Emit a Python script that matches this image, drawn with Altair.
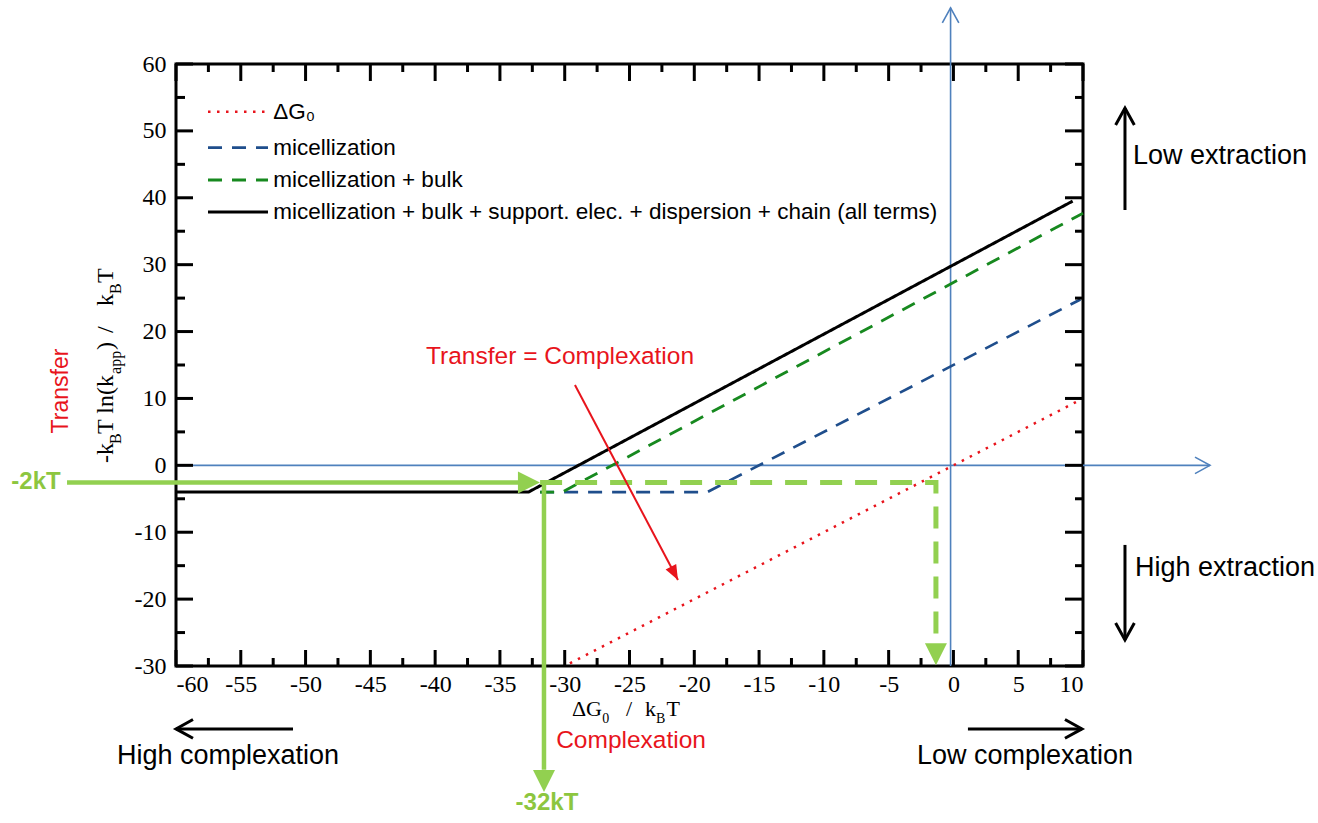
import altair as alt
import pandas as pd

W, H = 907, 602
X_DOMAIN = [-60, 10]
Y_DOMAIN = [-30, 60]

# ---------------- data ----------------
series_names = ["dg0", "mic", "bulk", "all"]
series_colors = ["#e8141c", "#1f4e8c", "#17891f", "#000000"]
series_dash = [[2.5, 6.5], [14, 10], [14, 10], [1, 0]]
series_width = [2.5, 3.0, 3.5, 3.0]

dg0_x = [-29.6, 9.8]
dg0_y = [-29.6, 9.8]
mic_x = [-31.9, -19.0, 9.8]
mic_y = [-4.0, -4.0, 24.8]
bulk_x = [-31.9, -30.2, 10.0]
bulk_y = [-4.0, -4.0, 37.7]
all_x = [-60.0, -32.8, 9.2]
all_y = [-4.0, -4.0, 39.5]

legend_labels = ["ΔG₀", "micellization", "micellization + bulk",
                 "micellization + bulk + support. elec. + dispersion + chain (all terms)"]
legend_y = [52.87, 47.49, 42.66, 37.87]
legend_x1, legend_x2, legend_tx = -57.53, -52.9, -52.5

x_ticks_major = list(range(-60, 11, 5))
x_ticks_minor = [v + 2.5 for v in range(-60, 10, 5)]
y_ticks_major = list(range(-30, 61, 10))
y_ticks_minor = [v + 5 for v in range(-30, 60, 10)]

# blue reference axes (x1, y1, x2, y2)
blue_lines = [(-60.0, 0.0, 19.8, 0.0), (-0.22, -30.0, -0.22, 68.4)]
blue_heads = [(19.8, 0.0, 0), (-0.22, 68.4, 270)]

# light green guide
green_solid = [(-68.41, -2.55, -32.5, -2.55), (-31.6, -2.55, -31.6, -45.5)]
green_heads = [(-31.91, -2.55, 0), (-31.6, -48.84, 90), (-1.35, -29.9, 90)]
green_dash_x = [-31.9, -1.35, -1.35]
green_dash_y = [-2.55, -2.55, -25.5]

# black direction arrows (x1, y1, x2, y2, angle)
black_arrows = [(-50.97, -39.4, -60.0, -39.4, 180),
                (1.12, -39.4, 9.92, -39.4, 0),
                (13.24, 38.17, 13.24, 53.42, 270),
                (13.24, -11.9, 13.24, -26.1, 90)]

# red arrow
red_arrow = (-29.21, 12.01, -21.26, -17.14, 62)

# annotation texts
annot = [
    # text, x, y, size, color, weight, angle, align
    ("Low extraction", 13.86, 46.2, 27, "black", "normal", 0, "left"),
    ("High extraction", 14.01, -15.35, 27, "black", "normal", 0, "left"),
    ("High complexation", -55.99, -43.4, 27, "black", "normal", 0, "center"),
    ("Low complexation", 5.52, -43.4, 27, "black", "normal", 0, "center"),
    ("Transfer = Complexation", -30.36, 16.2, 24.5, "#e8141c", "normal", 0, "center"),
    ("Complexation", -24.88, -41.2, 24.5, "#e8141c", "normal", 0, "center"),
    ("Transfer", -68.88, 11.11, 23, "#e8141c", "normal", 270, "center"),
    ("-2kT", -68.9, -2.5, 24, "#8dc63f", "bold", 0, "right"),
    ("-32kT", -31.37, -50.48, 24, "#8dc63f", "bold", 0, "center"),
]

# axis title pieces (text, x, y, is_sub)
x_title = [("ΔG", -29.44, -37.5, False), ("0", -27.1, -38.5, True),
           ("/", -25.27, -37.5, False), ("k", -23.80, -37.5, False),
           ("B", -22.95, -38.5, True), ("T", -22.15, -37.5, False)]
y_title = [("-k", -64.86, 0.35, False), ("B", -64.24, 3.19, True),
           ("T ln(k", -64.86, 4.69, False), ("app", -64.24, 13.66, True),
           (")", -64.86, 17.24, False), ("/", -64.86, 19.78, False),
           ("k", -64.86, 23.82, False), ("B", -64.24, 25.62, True),
           ("T", -64.86, 27.26, False)]

# ---------------- chart ----------------
xs = alt.Scale(domain=X_DOMAIN, nice=False, zero=False)
ys = alt.Scale(domain=Y_DOMAIN, nice=False, zero=False)
SERIF = "Liberation Serif"
SANS = "Liberation Sans"
CHEVRON = "M -1 -0.55 L 0 0 L -1 0.55"
TRI = "M -2 -1 L 0 0 L -2 1 Z"
RTRI = "M -2 -0.8 L 0 0 L -2 0.8 Z"

axis_x = alt.Axis(values=x_ticks_major, domain=False, ticks=False, grid=False, title=None,
                  labelFont=SERIF, labelFontSize=24, labelColor="black", labelPadding=6,
                  labelExpr="'' + datum.value")
axis_y = alt.Axis(values=y_ticks_major, domain=False, ticks=False, grid=False, title=None,
                  labelFont=SERIF, labelFontSize=24, labelColor="black", labelPadding=10,
                  labelExpr="'' + datum.value")


def X(f="x"):
    return alt.X(f"{f}:Q", scale=xs, axis=axis_x, title=None)


def Y(f="y"):
    return alt.Y(f"{f}:Q", scale=ys, axis=axis_y, title=None)


cscale = alt.Scale(domain=series_names, range=series_colors)
dscale = alt.Scale(domain=series_names, range=series_dash)
wscale = alt.Scale(domain=series_names, range=series_width)

rows = []
for name, xv, yv in zip(series_names, [dg0_x, mic_x, bulk_x, all_x], [dg0_y, mic_y, bulk_y, all_y]):
    for i, (a, b) in enumerate(zip(xv, yv)):
        rows.append({"series": name, "i": i, "x": a, "y": b})
df_lines = pd.DataFrame(rows)

layers = []

# blue axes
df_blue = pd.DataFrame(blue_lines, columns=["x", "y", "x2", "y2"])
layers.append(alt.Chart(df_blue).mark_rule(color="#4f81bd", strokeWidth=1.6).encode(
    x=X(), y=Y(), x2="x2:Q", y2="y2:Q"))
df_bh = pd.DataFrame(blue_heads, columns=["x", "y", "a"])
layers.append(alt.Chart(df_bh).mark_point(shape=CHEVRON, filled=False, size=900, strokeWidth=1.6,
                                          color="#4f81bd", opacity=1).encode(
    x=X(), y=Y(), angle=alt.Angle("a:Q", scale=None)))

# series lines
layers.append(alt.Chart(df_lines).mark_line().encode(
    x=X(), y=Y(),
    color=alt.Color("series:N", scale=cscale, legend=None),
    strokeDash=alt.StrokeDash("series:N", scale=dscale, legend=None),
    strokeWidth=alt.StrokeWidth("series:N", scale=wscale, legend=None),
    detail="series:N", order="i:Q"))

# legend
df_leg = pd.DataFrame({"series": series_names, "label": legend_labels, "y": legend_y,
                       "x1": legend_x1, "x2": legend_x2, "tx": legend_tx})
layers.append(alt.Chart(df_leg).mark_rule().encode(
    x=X("x1"), x2="x2:Q", y=Y(),
    color=alt.Color("series:N", scale=cscale, legend=None),
    strokeDash=alt.StrokeDash("series:N", scale=dscale, legend=None),
    strokeWidth=alt.StrokeWidth("series:N", scale=wscale, legend=None)))
layers.append(alt.Chart(df_leg).mark_text(align="left", baseline="middle", font=SANS,
                                          fontSize=22.5, color="black").encode(
    x=X("tx"), y=Y(), text="label:N"))

# light green guide
df_gd = pd.DataFrame({"x": green_dash_x, "y": green_dash_y, "i": range(len(green_dash_x))})
layers.append(alt.Chart(df_gd).mark_line(color="#92d050", strokeWidth=5, strokeDash=[22, 13]).encode(
    x=X(), y=Y(), order="i:Q"))
df_gs = pd.DataFrame(green_solid, columns=["x", "y", "x2", "y2"])
layers.append(alt.Chart(df_gs).mark_rule(color="#92d050", strokeWidth=4.5).encode(
    x=X(), y=Y(), x2="x2:Q", y2="y2:Q"))
df_gh = pd.DataFrame(green_heads, columns=["x", "y", "a"])
layers.append(alt.Chart(df_gh).mark_point(shape=TRI, filled=True, size=484, color="#92d050",
                                          opacity=1).encode(
    x=X(), y=Y(), angle=alt.Angle("a:Q", scale=None)))

# black arrows
df_ba = pd.DataFrame(black_arrows, columns=["x", "y", "x2", "y2", "a"])
layers.append(alt.Chart(df_ba).mark_rule(color="black", strokeWidth=3).encode(
    x=X(), y=Y(), x2="x2:Q", y2="y2:Q"))
layers.append(alt.Chart(df_ba).mark_point(shape=CHEVRON, filled=False, size=1156, strokeWidth=3,
                                          color="black", opacity=1).encode(
    x=X("x2"), y=Y("y2"), angle=alt.Angle("a:Q", scale=None)))

# red arrow
df_ra = pd.DataFrame([red_arrow], columns=["x", "y", "x2", "y2", "a"])
layers.append(alt.Chart(df_ra).mark_rule(color="#e8141c", strokeWidth=2).encode(
    x=X(), y=Y(), x2="x2:Q", y2="y2:Q"))
layers.append(alt.Chart(df_ra).mark_point(shape=RTRI, filled=True, size=225, color="#e8141c",
                                          opacity=1).encode(
    x=X("x2"), y=Y("y2"), angle=alt.Angle("a:Q", scale=None)))

# annotation texts
for t, x, y, size, col, wt, ang, al in annot:
    d = pd.DataFrame({"t": [t], "x": [x], "y": [y]})
    layers.append(alt.Chart(d).mark_text(font=SANS, fontSize=size, color=col, fontWeight=wt,
                                         angle=ang, align=al, baseline="middle").encode(
        x=X(), y=Y(), text="t:N"))

# axis titles
for t, x, y, sub in x_title:
    d = pd.DataFrame({"t": [t], "x": [x], "y": [y]})
    layers.append(alt.Chart(d).mark_text(font=SERIF, fontSize=14 if sub else 22, color="black",
                                         align="left", baseline="alphabetic").encode(
        x=X(), y=Y(), text="t:N"))
for t, x, y, sub in y_title:
    d = pd.DataFrame({"t": [t], "x": [x], "y": [y]})
    layers.append(alt.Chart(d).mark_text(font=SERIF, fontSize=16 if sub else 24, color="black",
                                         align="left", baseline="alphabetic", angle=270).encode(
        x=X(), y=Y(), text="t:N"))


# inward ticks on all four sides
def ticks(vals, side, length):
    d = pd.DataFrame({"v": vals})
    m = alt.Chart(d).mark_rule(color="black", strokeWidth=3)
    if side == "bottom":
        return m.encode(x=X("v"), y=alt.value(H), y2=alt.value(H - length))
    if side == "top":
        return m.encode(x=X("v"), y=alt.value(0), y2=alt.value(length))
    if side == "left":
        return m.encode(y=Y("v"), x=alt.value(0), x2=alt.value(length))
    return m.encode(y=Y("v"), x=alt.value(W), x2=alt.value(W - length))


layers += [ticks(x_ticks_major, "bottom", 16), ticks(x_ticks_minor, "bottom", 8),
           ticks(x_ticks_major, "top", 17), ticks(x_ticks_minor, "top", 8),
           ticks(y_ticks_major, "left", 17), ticks(y_ticks_minor, "left", 9),
           ticks(y_ticks_major, "right", 18), ticks(y_ticks_minor, "right", 8)]

chart = alt.layer(*layers).properties(
    width=W, height=H,
    padding={"left": 176, "top": 64, "right": 235, "bottom": 157},
    autosize=alt.AutoSizeParams(type="none"),
    background="white",
).configure_view(stroke="black", strokeWidth=3)

chart.save("out.html", embed_options={"renderer": "svg", "actions": False})
